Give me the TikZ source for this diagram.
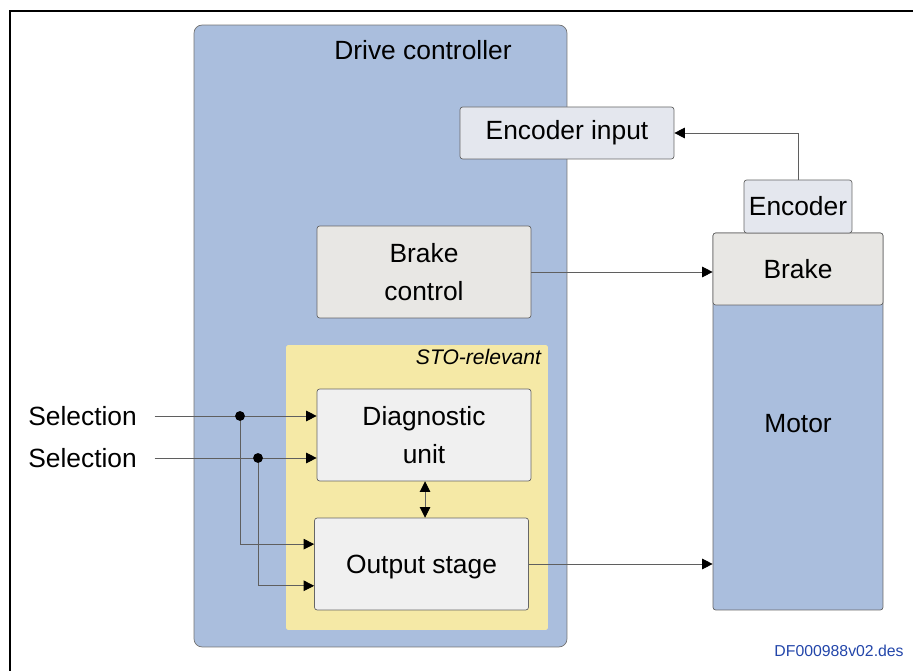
\documentclass[tikz,border=0pt]{standalone}
\usepackage{fontspec}
\setmainfont{Liberation Sans}
\usetikzlibrary{arrows.meta}
\definecolor{ctrlblue}{RGB}{170,190,221}
\definecolor{stoyellow}{RGB}{245,233,166}
\definecolor{boxgray}{RGB}{232,231,228}
\definecolor{diaggray}{RGB}{240,240,240}
\definecolor{encgray}{RGB}{228,231,238}
\definecolor{wiregray}{RGB}{95,95,95}
\definecolor{docblue}{RGB}{35,70,170}
\begin{document}
\begin{tikzpicture}[x=0.02cm,y=-0.02cm,font=\fontsize{15}{21.5}\selectfont]
        \tikzstyle{unit}=[draw=gray!80!black,rounded corners=1.5pt,inner sep=0pt,align=center,minimum width=4.28cm,minimum height=1.84cm]
        \tikzstyle{wire}=[draw=wiregray,line width=0.5pt]
        \tikzstyle{edge}=[wire,-{Triangle[length=6pt,width=6pt,color=black]}]
        \tikzstyle{dot}=[circle,fill=black,inner sep=0pt,minimum size=5.6pt]
        \useasboundingbox (0,0) rectangle (913,671);
        \draw[line width=1.2pt] (10,671) -- (10,11) -- (913,11);
       \begin{scope}
         % drive controller
         \node [draw=gray!90!black,fill=ctrlblue,rounded corners=4.5pt,minimum width=7.46cm,minimum height=12.44cm] (drive) at (380.5,336) {};
         \node (title) at (423,50) {Drive controller};
         \node [fill=stoyellow,rounded corners=1pt,minimum width=5.24cm,minimum height=5.7cm] (sto) at (417,487.5) {};
         \node [anchor=north east,inner sep=0pt,font=\itshape\fontsize{12}{14}\selectfont] (stolabel) at ([xshift=-4pt,yshift=-2.6pt]sto.north east) {STO-relevant};
         \node [unit,fill=encgray,minimum height=1.04cm] (encin) at (567,133) {Encoder input};
         \node [unit,fill=boxgray] (brakectl) at (424,272) {Brake\\control};
         \node [unit,fill=diaggray] (diag) at (424,435) {Diagnostic\\unit};
         \node [unit,fill=diaggray] (outst) at (421.5,564) {\raisebox{-2pt}[\height][\depth]{Output stage}};
         % motor side
         \node [unit,fill=ctrlblue,minimum width=3.4cm,minimum height=7.54cm] (motor) at (798,421.5) {\raisebox{-1pt}[\height][\depth]{Motor}};
         \node [unit,fill=boxgray,minimum width=3.4cm,minimum height=1.44cm] (brake) at (798,269) {Brake};
         \node [unit,fill=encgray,minimum width=2.16cm,minimum height=1.06cm] (enc) at (798,206.5) {Encoder};
         % inputs
         \node [anchor=west,inner sep=0pt] (sel1) at (28,416) {Selection};
         \node [anchor=west,inner sep=0pt] (sel2) at (28,458) {Selection};
         \coordinate (j1) at (240,416);
         \coordinate (j2) at (258,458);
         \path[wire] ([xshift=10pt]sel1.east) -- (j1);
         \path[wire] ([xshift=10pt]sel2.east) -- (j2);
         \path[edge] (j1) -- (j1 -| diag.west);
         \path[edge] (j2) -- (j2 -| diag.west);
         \path[edge] (j1) |- ([yshift=11.3pt]outst.west);
         \path[edge] (j2) |- ([yshift=-12.4pt]outst.west);
         \node [dot] at (j1) {};
         \node [dot] at (j2) {};
         \path[wire,{Triangle[length=6pt,width=6pt,color=black]}-{Triangle[length=6pt,width=6pt,color=black]}] ([xshift=0.6pt]diag.south) -- ([xshift=0.6pt]diag.south |- outst.north);
         % outputs
         \path[edge] (brakectl.east) -- (brakectl.east -| brake.west);
         \path[edge] (outst.east) -- (outst.east -| motor.west);
         \path[edge] (enc.north) |- (encin.east);
         \node [anchor=east,inner sep=0pt,text=docblue,font=\fontsize{9}{11}\selectfont] (docid) at (904,651) {DF000988v02.des};
        \end{scope}
      \end{tikzpicture}
\end{document}
